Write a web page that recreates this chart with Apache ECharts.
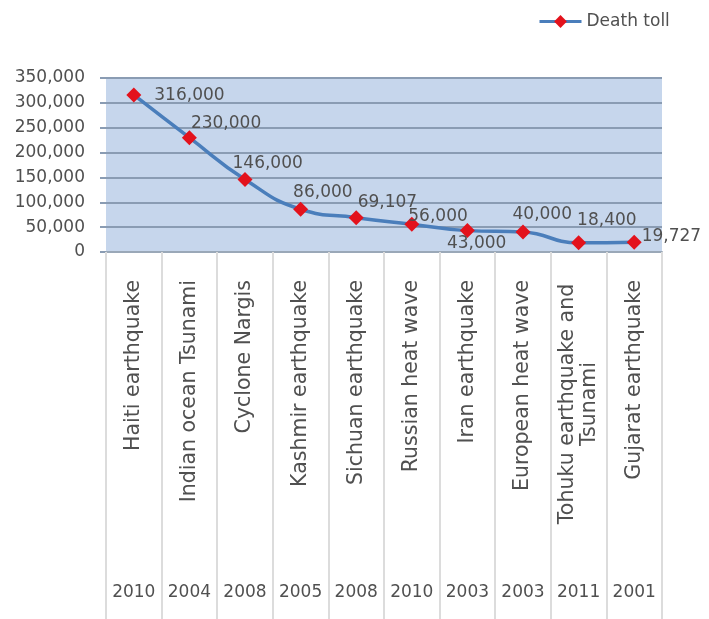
<!DOCTYPE html>
<html>
<head>
<meta charset="utf-8">
<script src="https://cdn.jsdelivr.net/npm/echarts@6/dist/echarts.min.js"></script>
<style>
  html, body { margin: 0; padding: 0; background: #fff; }
  #chart { width: 709px; height: 619px; }
</style>
</head>
<body>
<div id="chart"></div>
<script>
// 灾害名称 / 年份 / 死亡人数
const disasters = ['Haiti earthquake', 'Indian ocean Tsunami', 'Cyclone Nargis', 'Kashmir earthquake',
  'Sichuan earthquake', 'Russian heat wave', 'Iran earthquake', 'European heat wave',
  'Tohuku earthquake and\nTsunami', 'Gujarat earthquake'];
const years = ['2010', '2004', '2008', '2005', '2008', '2010', '2003', '2003', '2011', '2001'];
const deathToll = [316000, 230000, 146000, 86000, 69107, 56000, 43000, 40000, 18400, 19727];
const yTicks = [0, 50000, 100000, 150000, 200000, 250000, 300000, 350000];

// 数据标签的偏移（仅样式）
const labelShift = [[8, 1], [-11, -14], [-25, -16], [-20, -17], [-11, -15],
  [-16, -8], [-33, 13], [-23, -18], [-14, -22], [-5, -6]];

const fmt = v => Number(v).toLocaleString('en-US');
const font = "'DejaVu Sans', sans-serif";
const textColor = '#505050';

const myChart = echarts.init(document.getElementById('chart'));
myChart.setOption({
  animation: false,
  textStyle: { fontFamily: font },
  legend: {
    left: 538,
    top: 13,
    padding: 0,
    itemWidth: 42,
    itemHeight: 16,
    lineStyle: { width: 3 },
    textStyle: { fontSize: 17, color: textColor, fontFamily: font },
    data: ['Death toll'],
  },
  grid: {
    left: 106,
    right: 47,
    top: 78,
    bottom: 367,
    show: true,
    backgroundColor: '#c6d6ec',
    borderWidth: 0,
  },
  xAxis: [
    {
      type: 'category',
      data: disasters,
      boundaryGap: true,
      axisLine: { lineStyle: { color: '#9aa8b8', width: 2 } },
      axisTick: { show: true, length: 367, lineStyle: { color: '#dcdcdc', width: 2 } },
      axisLabel: {
        rotate: 90,
        margin: 28,
        interval: 0,
        fontSize: 20.5,
        lineHeight: 22,
        color: textColor,
        fontFamily: font,
        formatter: s => (s.includes('\n') ? s.split('\n').map(t => '{c|' + t + '}').join('\n') : s),
        rich: {
          c: { width: 248, align: 'center', fontSize: 20.5, lineHeight: 22, color: textColor, fontFamily: font },
        },
      },
    },
    {
      type: 'category',
      data: years,
      position: 'bottom',
      offset: 330,
      axisLine: { show: false },
      axisTick: { show: false },
      axisLabel: { interval: 0, margin: 2, fontSize: 17, color: textColor, fontFamily: font },
    },
  ],
  yAxis: {
    type: 'value',
    min: 0,
    max: 350000,
    interval: 50000,
    axisLine: { show: false },
    axisTick: { show: true, length: 6, lineStyle: { color: '#8a9cb3', width: 2 } },
    splitLine: { lineStyle: { color: '#8a9cb3', width: 2 } },
    axisLabel: {
      fontSize: 17,
      margin: 21,
      color: textColor,
      fontFamily: font,
      formatter: v => (yTicks.includes(v) ? fmt(v) : ''),
    },
  },
  series: [
    {
      name: 'Death toll',
      type: 'line',
      smooth: true,
      xAxisIndex: 0,
      data: deathToll.map((v, i) => ({
        value: v,
        label: { offset: labelShift[i] },
      })),
      symbol: 'diamond',
      symbolSize: 15,
      itemStyle: { color: '#e3121c' },
      lineStyle: { color: '#4a7ebb', width: 3.5 },
      label: {
        show: true,
        position: 'right',
        fontSize: 17,
        color: textColor,
        fontFamily: font,
        formatter: p => fmt(p.value),
      },
    },
  ],
});
</script>
</body>
</html>
